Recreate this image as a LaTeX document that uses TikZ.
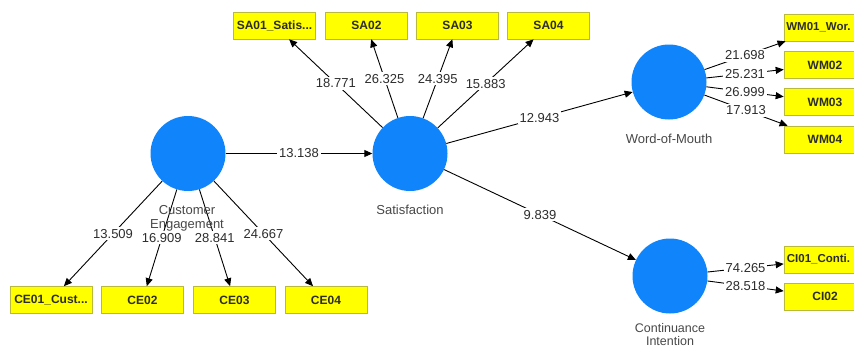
\documentclass[tikz,border=0pt]{standalone}
\usepackage{fontspec}
\setmainfont{Liberation Sans}
\usetikzlibrary{arrows.meta}
\definecolor{lvblue}{RGB}{16,132,250}
\definecolor{itemyellow}{RGB}{255,255,0}
\definecolor{itemborder}{RGB}{185,185,60}
\definecolor{labelgrey}{RGB}{72,72,72}
\definecolor{coefgrey}{RGB}{45,45,45}
\begin{document}
\begin{tikzpicture}[x=1pt,y=-1pt,
 latent/.style={circle, fill=lvblue, minimum size=75pt, inner sep=0pt},
 item/.style={draw=itemborder, line width=0.6pt, fill=itemyellow, minimum width=82pt, minimum height=27pt, inner sep=0pt, font=\fontsize{12}{14}\selectfont\bfseries, text=coefgrey},
 cutitem/.style={item, font=\fontsize{11.5}{14}\selectfont\bfseries},
 lbl/.style={font=\fontsize{13}{14}\selectfont, text=labelgrey, align=center},
 coef/.style={fill=white, inner sep=1.8pt, font=\fontsize{13}{15}\selectfont, text=coefgrey},
 conn/.style={draw=black, line width=0.9pt, -{Triangle[length=8pt,width=7pt]}}
]
\clip (0,0) rectangle (854,349);
\fill[white] (0,0) rectangle (854,349);

% latent variables
\node[latent] (ce) at (188,153.5) {};
\node[latent] (sa) at (410,153.5) {};
\node[latent] (wm) at (669,82) {};
\node[latent] (ci) at (670,276) {};

% indicators
\node[item] (ce1) at (51,300) {CE01\_Cust...};
\node[item] (ce2) at (142.5,300) {CE02};
\node[item] (ce3) at (234.5,300) {CE03};
\node[item] (ce4) at (326,300) {CE04};

\node[item] (sa1) at (274.5,25.5) {SA01\_Satis...};
\node[item] (sa2) at (366.5,25.5) {SA02};
\node[item] (sa3) at (457.5,25.5) {SA03};
\node[item] (sa4) at (548.5,25.5) {SA04};

\node[cutitem] (wm1) at (825,27.5) {\hspace*{-13pt}WM01\_Wor.};
\node[item] (wm2) at (825,65) {WM02};
\node[item] (wm3) at (825,102) {WM03};
\node[item] (wm4) at (825,139.5) {WM04};

\node[cutitem] (ci1) at (825,259.5) {\hspace*{-13pt}CI01\_Conti.};
\node[item] (ci2) at (825,296.5) {CI02};

% connectors
\draw[conn] (ce) -- node[coef]{13.138} (sa);
\draw[conn] (sa) -- node[coef]{12.943} (wm);
\draw[conn] (sa) -- node[coef]{9.839} (ci);

\draw[conn] (ce) -- node[coef]{13.509} (ce1);
\draw[conn] (ce) -- node[coef]{16.909} (ce2);
\draw[conn] (ce) -- node[coef]{28.841} (ce3);
\draw[conn] (ce) -- node[coef]{24.667} (ce4);

\draw[conn] (sa) -- node[coef]{18.771} (sa1);
\draw[conn] (sa) -- node[coef]{26.325} (sa2);
\draw[conn] (sa) -- node[coef]{24.395} (sa3);
\draw[conn] (sa) -- node[coef]{15.883} (sa4);

\draw[conn] (wm) -- node[coef]{21.698} (wm1);
\draw[conn] (wm) -- node[coef]{25.231} (wm2);
\draw[conn] (wm) -- node[coef]{26.999} (wm3);
\draw[conn] (wm) -- node[coef]{17.913} (wm4);

\draw[conn] (ci) -- node[coef]{74.265} (ci1);
\draw[conn] (ci) -- node[coef]{28.518} (ci2);

% latent labels
\node[lbl] (cel) at (187,218) {Customer\\Engagement};
\node[lbl] (sal) at (410,210) {Satisfaction};
\node[lbl] (wml) at (669,138.5) {Word-of-Mouth};
\node[lbl, font=\fontsize{12.5}{12.5}\selectfont, inner sep=0.5pt] (cil) at (670,334.5) {Continuance\\Intention};
\end{tikzpicture}
\end{document}
